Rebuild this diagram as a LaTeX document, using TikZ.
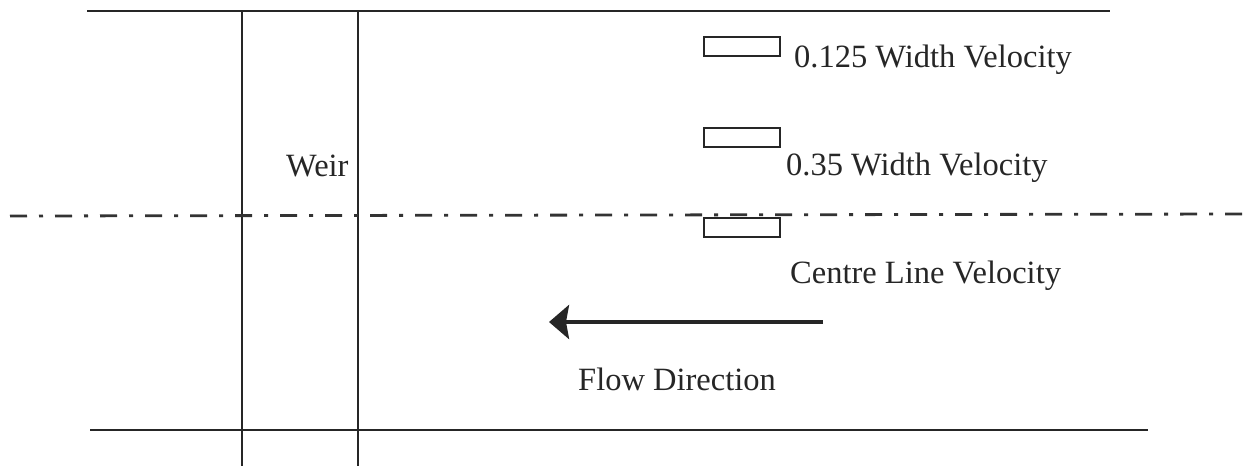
\documentclass[tikz,border=0pt]{standalone}
\usepackage{fontspec}
\setmainfont{Liberation Serif}
\usetikzlibrary{arrows.meta}
\begin{document}
\begin{tikzpicture}[x=1pt,y=-1pt,
  wall/.style={line width=2.8pt,color=black!85},
  centreline/.style={line width=2.8pt,color=black!80,dash pattern=on 17pt off 12pt on 4pt off 12pt},
  probe/.style={draw=black!85,line width=2.4pt,minimum width=76pt,minimum height=19pt,inner sep=0pt,anchor=north west},
  lbl/.style={font=\fontsize{32.5}{38}\selectfont,inner sep=0pt,anchor=base west,text=black!85},
  flow/.style={line width=4.5pt,color=black!85,-{Stealth[length=20pt,width=34pt,inset=3pt]}}]
\useasboundingbox (0,0) rectangle (1246,466);
% channel banks
\coordinate (tl) at (87,11);
\coordinate (tr) at (1110,11);
\coordinate (bl) at (90,430);
\coordinate (br) at (1148,430);
\draw[wall] (tl) -- (tr);
\draw[wall] (bl) -- (br);
% weir
\coordinate (w1t) at (242,11);
\coordinate (w1b) at (242,466);
\coordinate (w2t) at (358,11);
\coordinate (w2b) at (358,466);
\draw[wall] (w1t) -- (w1b);
\draw[wall] (w2t) -- (w2b);
\node[lbl] (weir) at (286,176) {Weir};
% centre line
\coordinate (cl1) at (10,216);
\coordinate (cl2) at (1242,214);
\draw[centreline] (cl1) -- (cl2);
% probes
\node[probe] (p1) at (703,36) {};
\node[probe] (p2) at (703,127) {};
\node[probe] (p3) at (703,217) {};
\node[lbl] (t1) at (794,67) {0.125 Width Velocity};
\node[lbl] (t2) at (786,175) {0.35 Width Velocity};
\node[lbl] (t3) at (790,283) {Centre Line Velocity};
% flow arrow
\coordinate (fa) at (823,322);
\coordinate (fb) at (549,322);
\draw[flow] (fa) -- (fb);
\node[lbl] (fd) at (578,390) {Flow Direction};
\end{tikzpicture}
\end{document}
